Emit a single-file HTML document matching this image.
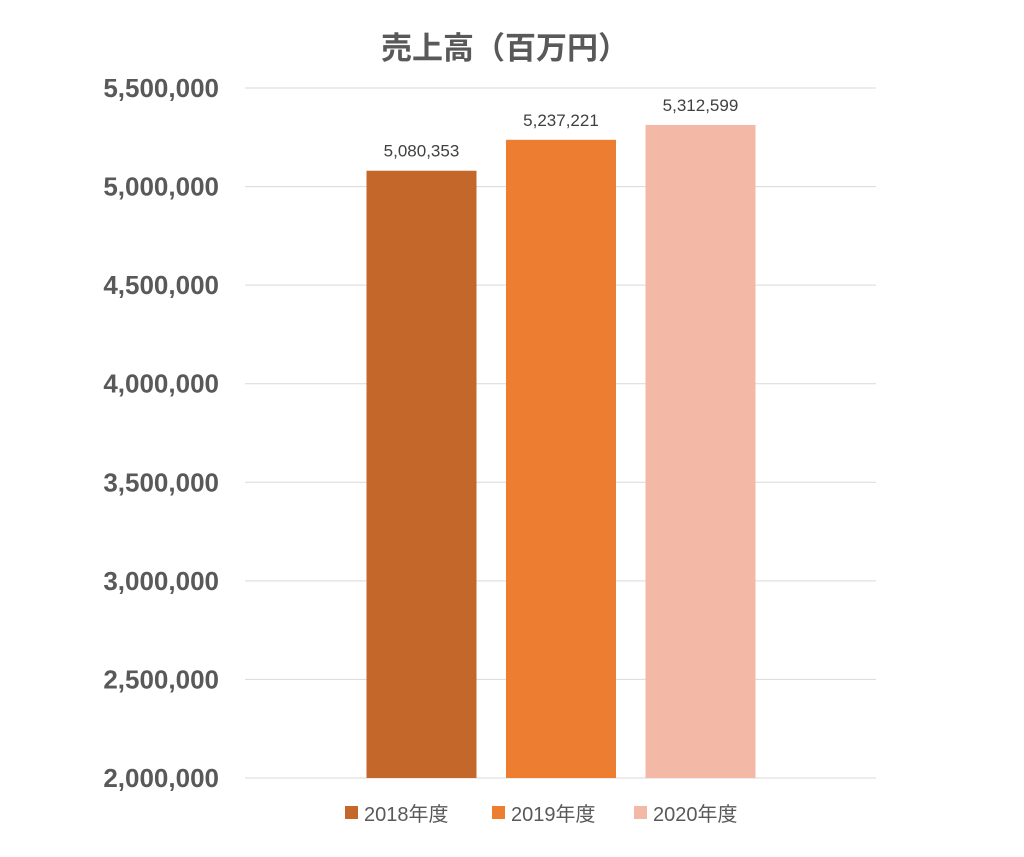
<!DOCTYPE html>
<html><head><meta charset="utf-8"><style>
html,body{margin:0;padding:0;background:#fff;}
svg{display:block;font-family:"Liberation Sans","Noto Sans CJK JP",sans-serif;}
</style></head><body>
<svg id="chart" width="1024" height="857" viewBox="0 0 1024 857">
<text x="505" y="59" text-anchor="middle" font-size="31" font-weight="bold" fill="#595959">売上高（百万円）</text>
<g id="grid"></g><g id="yaxis"></g><g id="bars"></g><g id="labels"></g><g id="legend"></g>
</svg>
<script>
const categories = ["2018年度","2019年度","2020年度"];
const values = [5080353,5237221,5312599];
const valueLabels = ["5,080,353","5,237,221","5,312,599"];
const ticks = [2000000,2500000,3000000,3500000,4000000,4500000,5000000,5500000];
const tickLabels = ["2,000,000","2,500,000","3,000,000","3,500,000","4,000,000","4,500,000","5,000,000","5,500,000"];
const colors = ["#C4672A","#ED7D31","#F4B9A6"];
const NS="http://www.w3.org/2000/svg";
const yMin=2000000,yMax=5500000,yTop=88,yBot=778,xL=245,xR=876;
const y=v=>yBot-(v-yMin)/(yMax-yMin)*(yBot-yTop);
const band=(xR-xL)/5.4, barW=110;
const xc=i=>421.5+i*139.5;
function mk(t,a,p){const e=document.createElementNS(NS,t);for(const k in a)e.setAttribute(k,a[k]);p.appendChild(e);return e;}
const grid=document.getElementById('grid'),ya=document.getElementById('yaxis');
ticks.forEach((t,i)=>{
 const l=mk('line',{x1:xL,x2:xR,y1:y(t),y2:y(t),stroke:'#D9D9D9','stroke-width':1},grid);
 
 
 const tx=mk('text',{x:219,y:y(t)+9,'text-anchor':'end','font-size':26,'font-weight':'bold',fill:'#595959'},ya);
 tx.textContent=tickLabels[i];
 
 
});
const bars=document.getElementById('bars'),lab=document.getElementById('labels'),leg=document.getElementById('legend');
const legX=[345,492,634];
values.forEach((v,i)=>{
 const r=mk('rect',{x:xc(i)-barW/2,y:y(v),width:barW,height:yBot-y(v),fill:colors[i]},bars);
 
 
 const t=mk('text',{x:xc(i),y:y(v)-14,'text-anchor':'middle','font-size':17,fill:'#404040'},lab);
 t.textContent=valueLabels[i];
 
 
 const s=mk('rect',{x:legX[i],y:806,width:13,height:13,fill:colors[i]},leg);
 
 
 const lt=mk('text',{x:legX[i]+19,y:821,'font-size':20,fill:'#595959'},leg);
 lt.textContent=categories[i];
 
 
});
</script>
</body></html>
